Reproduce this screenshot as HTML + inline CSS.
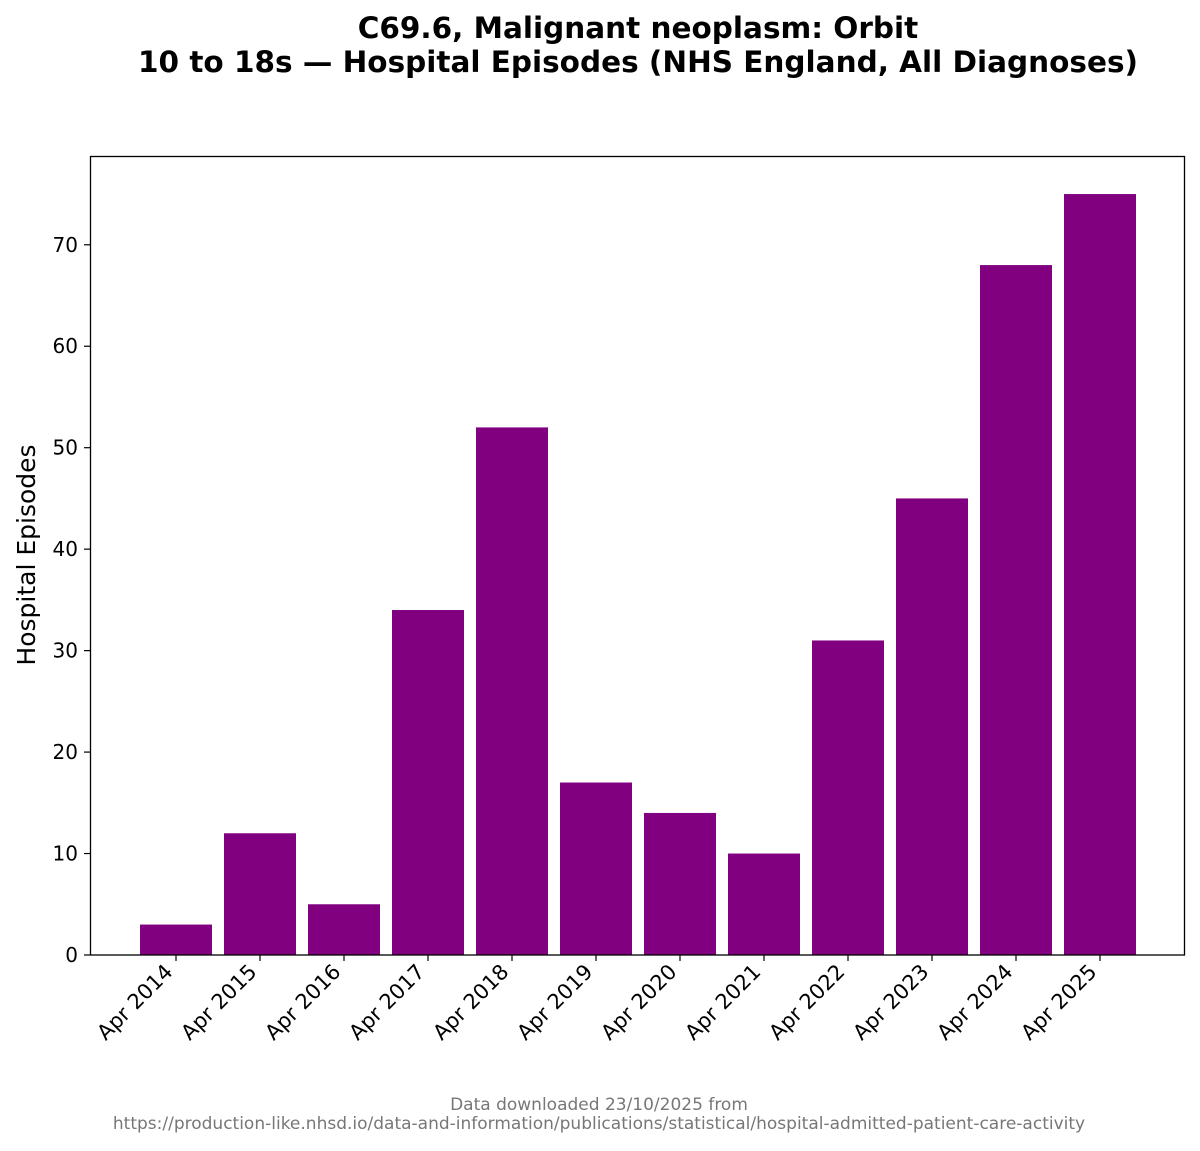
<!DOCTYPE html>
<html><head><meta charset="utf-8"><style>
html,body{margin:0;padding:0;background:#fff;}
svg text{font-family:"DejaVu Sans","Liberation Sans",sans-serif;}
</style></head><body>
<svg id="chart" width="1200" height="1146" xmlns="http://www.w3.org/2000/svg">
<rect width="1200" height="1146" fill="#fff"/>
<text x="638" y="38" text-anchor="middle" font-size="29.5" font-weight="bold">C69.6, Malignant neoplasm: Orbit</text>
<text x="638" y="72" text-anchor="middle" font-size="29.5" font-weight="bold">10 to 18s — Hospital Episodes (NHS England, All Diagnoses)</text>
<g id="bars"></g>
<g id="yaxis"></g>
<g id="xaxis"></g>
<rect x="90.5" y="156.5" width="1094" height="798.5" fill="none" stroke="#000" stroke-width="1.3"/>
<text transform="translate(35,555) rotate(-90)" text-anchor="middle" font-size="25">Hospital Episodes</text>
<text x="599" y="1110" text-anchor="middle" font-size="17" fill="#777">Data downloaded 23/10/2025 from</text>
<text x="599" y="1129" text-anchor="middle" font-size="17" fill="#777">https://production-like.nhsd.io/data-and-information/publications/statistical/hospital-admitted-patient-care-activity</text>
</svg>
<script>
const categories = ["Apr 2014","Apr 2015","Apr 2016","Apr 2017","Apr 2018","Apr 2019","Apr 2020","Apr 2021","Apr 2022","Apr 2023","Apr 2024","Apr 2025"];
const values = [3,12,5,34,52,17,14,10,31,45,68,75];
const yTicks = [0,10,20,30,40,50,60,70];

const NS = "http://www.w3.org/2000/svg";
const plotBottom = 955, plotTop = 156, yMax = 78.75;
function yScale(v){ return plotBottom - v/yMax*(plotBottom-plotTop); }
const x0 = 176, step = 84, barW = 72;
function xScale(i){ return x0 + i*step; }

const bars = document.getElementById('bars');
values.forEach((v,i)=>{
  const r = document.createElementNS(NS,'rect');
  
  
  r.setAttribute('x', xScale(i)-barW/2);
  r.setAttribute('y', yScale(v));
  r.setAttribute('width', barW);
  r.setAttribute('height', plotBottom - yScale(v));
  r.setAttribute('fill', '#800080');
  bars.appendChild(r);
});

const ya = document.getElementById('yaxis');
yTicks.forEach(t=>{
  const y = yScale(t);
  const l = document.createElementNS(NS,'line');
  
  
  l.setAttribute('x1',84); l.setAttribute('x2',90); l.setAttribute('y1',y); l.setAttribute('y2',y);
  l.setAttribute('stroke','#000'); l.setAttribute('stroke-width','1.2');
  ya.appendChild(l);
  const tx = document.createElementNS(NS,'text');
  
  
  tx.setAttribute('x',78); tx.setAttribute('y',y+7);
  tx.setAttribute('text-anchor','end'); tx.setAttribute('font-size','20');
  tx.textContent = t;
  ya.appendChild(tx);
});

const xa = document.getElementById('xaxis');
categories.forEach((c,i)=>{
  const x = xScale(i);
  const l = document.createElementNS(NS,'line');
  
  
  l.setAttribute('x1',x); l.setAttribute('x2',x); l.setAttribute('y1',955); l.setAttribute('y2',961);
  l.setAttribute('stroke','#000'); l.setAttribute('stroke-width','1.2');
  xa.appendChild(l);
  const tx = document.createElementNS(NS,'text');
  
  
  tx.setAttribute('transform','translate('+(x-2)+',973) rotate(-45)');
  tx.setAttribute('text-anchor','end'); tx.setAttribute('font-size','21');
  tx.textContent = c;
  xa.appendChild(tx);
});
</script>
</body></html>
